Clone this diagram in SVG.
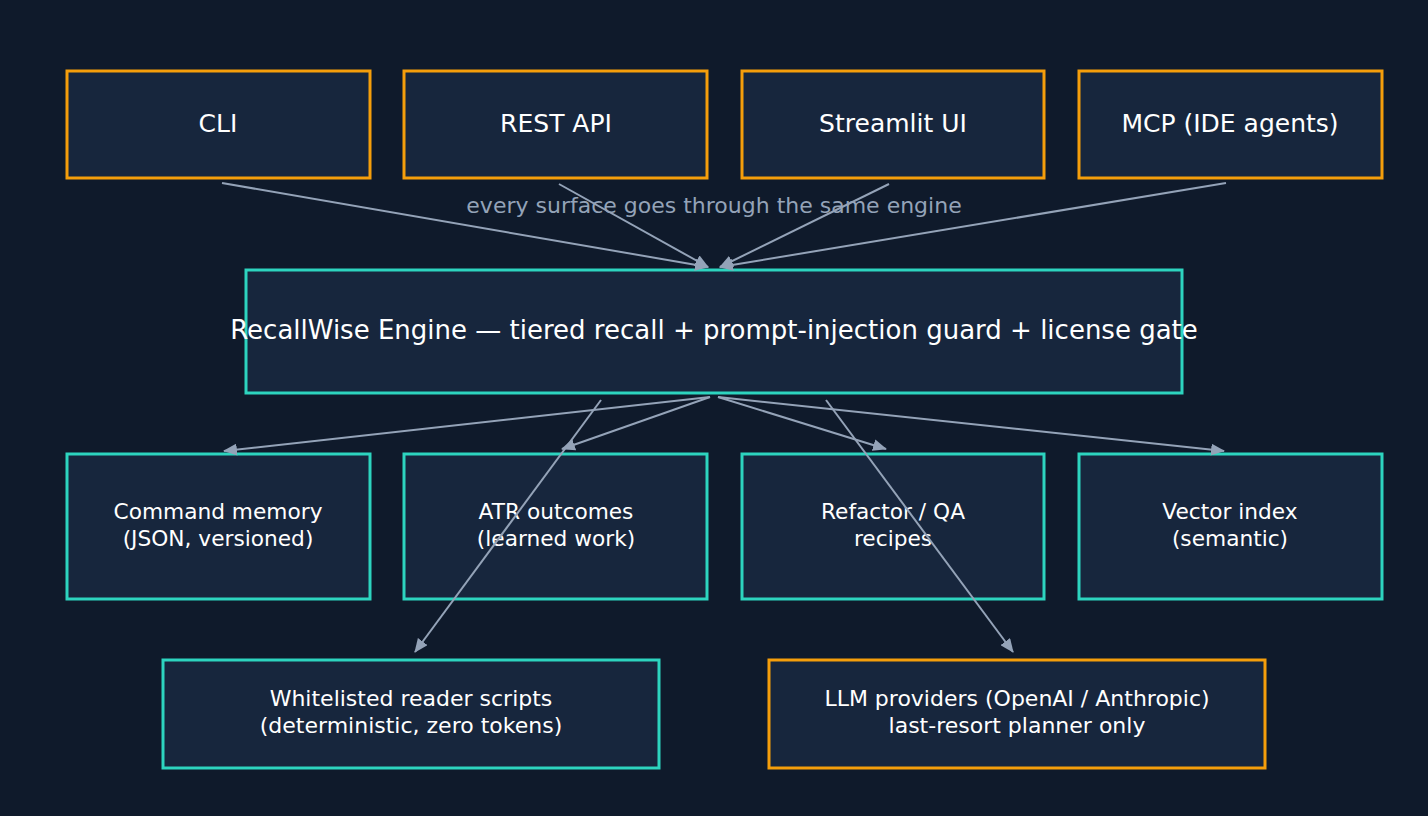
<svg xmlns="http://www.w3.org/2000/svg" width="1428" height="816" viewBox="0 0 1428 816">
<defs>
<marker id="ah" markerWidth="14" markerHeight="12" refX="13" refY="6" orient="auto" markerUnits="userSpaceOnUse" viewBox="0 0 14 12"><path d="M0,0 L14,6 L0,12 z" fill="#94a3b8"/></marker>
<style>
.o{fill:#17263d;stroke:#f59e0b;stroke-width:3}
.t{fill:#17263d;stroke:#2dd4bf;stroke-width:3}
text{font-family:"DejaVu Sans",sans-serif;fill:#ffffff;text-anchor:middle}
.l{font-size:25px}.e{font-size:26px}.s{font-size:21.7px}.b{font-size:22px}
.c{stroke:#94a3b8;stroke-width:2;fill:none;marker-end:url(#ah)}
</style>
</defs>
<rect width="1428" height="816" fill="#0f1a2b"/>
<g id="cli"><rect class="o" x="67" y="71" width="303" height="107"/><text class="l" x="218" y="132">CLI</text></g>
<g id="rest"><rect class="o" x="404" y="71" width="303" height="107"/><text class="l" x="556" y="132">REST API</text></g>
<g id="streamlit"><rect class="o" x="742" y="71" width="302" height="107"/><text class="l" x="893" y="132">Streamlit UI</text></g>
<g id="mcp"><rect class="o" x="1079" y="71" width="303" height="107"/><text class="l" x="1230" y="132">MCP (IDE agents)</text></g>
<g id="engine"><rect class="t" x="246" y="270" width="936" height="123"/><text class="e" x="714" y="339">RecallWise Engine — tiered recall + prompt-injection guard + license gate</text></g>
<g id="cmd"><rect class="t" x="67" y="454" width="303" height="145"/><text class="s" x="218" y="519">Command memory</text><text class="s" x="218" y="546">(JSON, versioned)</text></g>
<g id="atr"><rect class="t" x="404" y="454" width="303" height="145"/><text class="s" x="556" y="519">ATR outcomes</text><text class="s" x="556" y="546">(learned work)</text></g>
<g id="refactor"><rect class="t" x="742" y="454" width="302" height="145"/><text class="s" x="893" y="519">Refactor / QA</text><text class="s" x="893" y="546">recipes</text></g>
<g id="vector"><rect class="t" x="1079" y="454" width="303" height="145"/><text class="s" x="1230" y="519">Vector index</text><text class="s" x="1230" y="546">(semantic)</text></g>
<g id="reader"><rect class="t" x="163" y="660" width="496" height="108"/><text class="b" x="411" y="706">Whitelisted reader scripts</text><text class="b" x="411" y="733">(deterministic, zero tokens)</text></g>
<g id="llm"><rect class="o" x="769" y="660" width="496" height="108"/><text class="b" x="1017" y="706">LLM providers (OpenAI / Anthropic)</text><text class="b" x="1017" y="733">last-resort planner only</text></g>
<g id="connectors">
<line class="c" x1="222" y1="183" x2="708" y2="267"/>
<line class="c" x1="559" y1="184" x2="708" y2="267"/>
<line class="c" x1="889" y1="184" x2="720" y2="267"/>
<line class="c" x1="1226" y1="183" x2="720" y2="267"/>
<line class="c" x1="710" y1="397" x2="224" y2="451"/>
<line class="c" x1="710" y1="397" x2="562" y2="449"/>
<line class="c" x1="718" y1="397" x2="886" y2="449"/>
<line class="c" x1="718" y1="397" x2="1224" y2="451"/>
<line class="c" x1="601" y1="400" x2="415" y2="652"/>
<line class="c" x1="826" y1="400" x2="1013" y2="652"/>
<text x="714" y="213" style="font-size:22px;fill:#94a3b8">every surface goes through the same engine</text>
</g>
</svg>
